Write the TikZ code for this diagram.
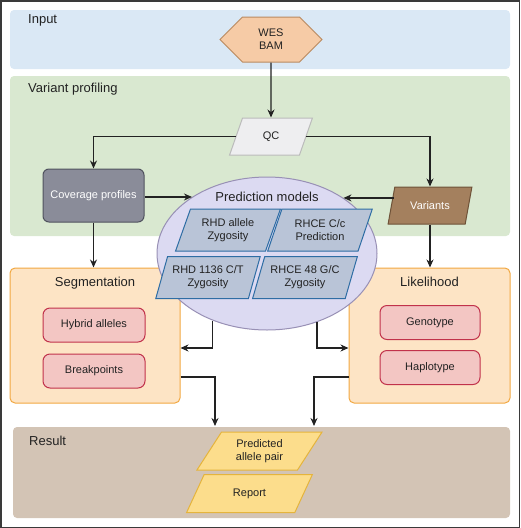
\documentclass[tikz,border=0pt]{standalone}
\usepackage{fontspec}
\setmainfont{Liberation Sans}
\usetikzlibrary{shapes.geometric,shapes.symbols,arrows,arrows.meta,positioning}

\definecolor{inputbg}{HTML}{DAE8F5}
\definecolor{profbg}{HTML}{D9E8D0}
\definecolor{resbg}{HTML}{D3C4B5}
\definecolor{hexfill}{HTML}{F6CBA6}
\definecolor{hexdraw}{HTML}{B98A60}
\definecolor{qcfill}{HTML}{EEEEF0}
\definecolor{qcdraw}{HTML}{BBBBBB}
\definecolor{covfill}{HTML}{8A8C99}
\definecolor{covdraw}{HTML}{50525E}
\definecolor{varfill}{HTML}{A4805E}
\definecolor{vardraw}{HTML}{6E5238}
\definecolor{pmfill}{HTML}{DCDAF2}
\definecolor{pmdraw}{HTML}{9890B5}
\definecolor{modfill}{HTML}{B9C4D7}
\definecolor{moddraw}{HTML}{2E6DA4}
\definecolor{secfill}{HTML}{FDE4C5}
\definecolor{secdraw}{HTML}{F2A842}
\definecolor{subfill}{HTML}{F3C6C3}
\definecolor{subdraw}{HTML}{C1324B}
\definecolor{outfill}{HTML}{FCDD8C}
\definecolor{outdraw}{HTML}{E5B43C}
\definecolor{ink}{HTML}{222222}
\definecolor{frame}{HTML}{3A3A3A}

\tikzstyle{band} = [rounded corners=4pt]
\tikzstyle{bandlabel} = [anchor=base west, inner sep=0pt, text=ink, font=\fontsize{13}{15}\selectfont]
\tikzstyle{txt} = [font=\fontsize{11}{13.2}\selectfont, align=center, text=ink]
\tikzstyle{slanted} = [trapezium, trapezium left angle=66, trapezium right angle=114, trapezium stretches=true, line width=1pt, inner sep=0pt, txt]
\tikzstyle{model} = [slanted, minimum width=105pt, minimum height=42pt, fill=modfill, draw=moddraw]
\tikzstyle{result} = [slanted, trapezium left angle=57, trapezium right angle=123, minimum width=126pt, minimum height=38pt, fill=outfill, draw=outdraw]
\tikzstyle{section} = [rectangle, rounded corners=5pt, minimum height=135pt, fill=secfill, draw=secdraw, line width=1pt]
\tikzstyle{sub} = [rectangle, rounded corners=7pt, minimum width=102pt, minimum height=34pt, fill=subfill, draw=subdraw, line width=1pt, txt]
\tikzstyle{arrow} = [line width=1.2pt, ->, >={Stealth[length=8pt,width=7pt]}, draw=ink]

\begin{document}
\begin{tikzpicture}[x=1pt, y=-1pt]
\useasboundingbox (0,0) rectangle (520,528);

% bands
\fill [inputbg, band] (10,10) rectangle (510,69);
\fill [profbg, band] (10,76) rectangle (510,236);
\fill [resbg, band] (13,427) rectangle (510,518);
\node (inputlabel) [bandlabel] at (28,23.5) {Input};
\node (proflabel) [bandlabel] at (28,92.7) {Variant profiling};
\node (reslabel) [bandlabel] at (29,445.7) {Result};

% input and profiling
\node (wes) [signal, signal to=west and east, signal pointer angle=90, minimum width=102pt, minimum height=45pt, inner sep=0pt, fill=hexfill, draw=hexdraw, line width=1pt, txt] at (271,39.5) {WES\\BAM};
\node (qc) [slanted, trapezium left angle=69, trapezium right angle=111, minimum width=83pt, minimum height=37pt, fill=qcfill, draw=qcdraw] at (271,136.5) {QC};
\node (cov) [rectangle, rounded corners=6pt, minimum width=101pt, minimum height=53pt, fill=covfill, draw=covdraw, line width=1pt, txt, text=white] at (93.5,195.5) {Coverage profiles};
\node (var) [slanted, trapezium left angle=65, trapezium right angle=115, minimum width=84pt, minimum height=37pt, fill=varfill, draw=vardraw, text=white] at (430,205.5) {Variants};

% segmentation and likelihood
\node (seg) [section, minimum width=170pt] at (95,335.5) {};
\node (lik) [section, minimum width=161pt] at (429.5,335.5) {};
\node (seglabel) [anchor=base, inner sep=0pt, text=ink, font=\fontsize{13}{15}\selectfont] at ([yshift=-18.7pt]seg.north) {Segmentation};
\node (liklabel) [anchor=base, inner sep=0pt, text=ink, font=\fontsize{13}{15}\selectfont] at ([yshift=-18.7pt]lik.north) {Likelihood};
\node (hybrid) [sub] at (94,325) {Hybrid alleles};
\node (breaks) [sub, below of=hybrid, node distance=46pt] {Breakpoints};
\node (geno) [sub, minimum width=100pt] at (430,322.5) {Genotype};
\node (haplo) [sub, minimum width=100pt, below of=geno, node distance=45pt] {Haplotype};

% prediction models
\node (pm) [ellipse, minimum width=220pt, minimum height=153pt, fill=pmfill, draw=pmdraw, line width=1pt] at (267,253.5) {};
\node (pmlabel) [anchor=base, inner sep=0pt, text=ink, font=\fontsize{13}{15}\selectfont] at (267,201.7) {Prediction models};
\node (rhdzyg) [model] at (228,230) {RHD allele\\Zygosity};
\node (rhcepred) [model, right of=rhdzyg, node distance=92pt] {RHCE C/c\\Prediction};
\node (rhdct) [model] at (208,277.5) {RHD 1136 C/T\\Zygosity};
\node (rhcegc) [model, right of=rhdct, node distance=97pt] {RHCE 48 G/C\\Zygosity};

% result
\node (pred) [result] at (259.5,451) {Predicted\\allele pair};
\node (report) [result] at (249.5,493.5) {Report};
\coordinate (segout) at (215,426);
\coordinate (likout) at (314,426);

% connectors
\draw [arrow] (wes) -- (qc);
\draw [arrow] (qc.west) -| (cov.north);
\draw [arrow] (qc.east) -| (var.north);
\draw [arrow] (cov.south) -- (cov.south |- seg.north);
\draw [arrow] (var.south) -- (var.south |- lik.north);
\draw [arrow] (pm.143 -| cov.east) -- (pm.143);
\draw [arrow] ([xshift=3pt]pm.36 -| var.west) -- (pm.36);
\draw [arrow] (pm.231) |- ([yshift=-12.5pt]seg.east);
\draw [arrow] (pm.306) |- ([yshift=-12.5pt]lik.west);
\draw [arrow] ([yshift=-41.5pt]seg.east) -| (segout);
\draw [arrow] ([yshift=-41.5pt]lik.west) -| (likout);

\draw [frame, line width=1.5pt] (0.75,0.75) rectangle (519.25,527.25);
\end{tikzpicture}
\end{document}
